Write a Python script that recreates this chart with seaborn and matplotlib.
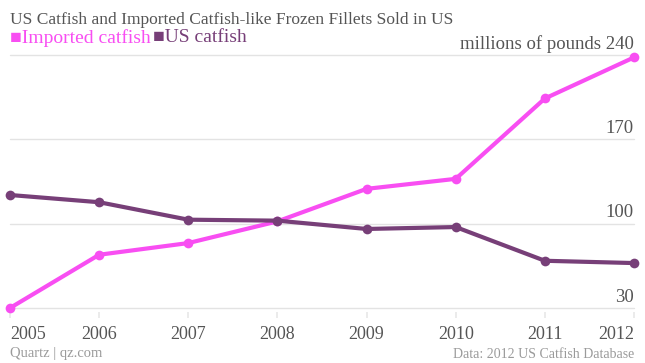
"""
US catfish vs imported catfish-like frozen fillets sold in the US (Quartz style line chart).
"""
import numpy as np
import pandas as pd
import seaborn as sns
import matplotlib.pyplot as plt
from matplotlib.transforms import blended_transform_factory

sns.set_theme(style="white")
plt.rcParams["font.family"] = ["Liberation Serif", "DejaVu Sans"]

# Data (millions of pounds)
years = [2005, 2006, 2007, 2008, 2009, 2010, 2011, 2012]
imported = [30.0, 74.2, 83.9, 101.9, 128.9, 137.2, 203.9, 238.0]
us_catfish = [123.8, 117.8, 103.3, 102.5, 95.6, 97.2, 69.2, 67.3]
series_names = ["Imported catfish", "US catfish"]
colors = ["#f84ef2", "#773f78"]
y_ticks = [30, 100, 170, 240]

TEXT = "#555555"
GRID = "#e3e3e3"

df = pd.DataFrame({
    "year": years * 2,
    "value": imported + us_catfish,
    "series": [series_names[0]] * len(years) + [series_names[1]] * len(years),
})

W, H = 645, 363
fig = plt.figure(figsize=(W / 100, H / 100), dpi=100)
# axes placed in pixel coordinates: x 10..634, y 50..312
left, right, top, bottom = 10, 634, 50, 312
ax = fig.add_axes([left / W, 1 - bottom / H, (right - left) / W, (bottom - top) / H])

px_per_unit = (308 - 55) / (240 - 30)
ax.set_ylim(30 - (bottom - 308) / px_per_unit, 240 + (55 - top) / px_per_unit)
ax.set_xlim(years[0], years[-1])

for yt in y_ticks:
    ax.axhline(yt, color=GRID, lw=1, zorder=0)

sns.lineplot(data=df, x="year", y="value", hue="series", palette=colors,
             marker="o", markersize=7, markeredgewidth=0, linewidth=3,
             legend=False, ax=ax, zorder=3)
for line in ax.lines:
    line.set_clip_on(False)

for s in ax.spines.values():
    s.set_visible(False)
ax.set_yticks([])
ax.set_xticks(years)
ax.set_xticklabels([str(y) for y in years], fontsize=13, color=TEXT)
labels = ax.get_xticklabels()
labels[0].set_ha("left")
labels[-1].set_ha("right")
ax.tick_params(axis="x", length=4, color="#e8e8e8", pad=6, bottom=True)
ax.set_xlabel("")
ax.set_ylabel("")

# right-side value labels sitting on the gridlines
trans = blended_transform_factory(ax.transAxes, ax.transData)
for yt in y_ticks:
    label = f"millions of pounds {yt}" if yt == y_ticks[-1] else str(yt)
    ax.text(1.0, yt + 2, label, transform=trans, ha="right", va="bottom",
            fontsize=13.5, color=TEXT)

# title and legend
fig.text(10 / W, 1 - 20 / H, "US Catfish and Imported Catfish-like Frozen Fillets Sold in US",
         fontsize=12.5, color=TEXT, va="center", ha="left")
t1 = fig.text(10 / W, 1 - 38 / H, "\u25a0" + series_names[0], fontsize=14,
              color=colors[0], va="center", ha="left")
fig.canvas.draw()
bb = t1.get_window_extent()
fig.text((bb.x1 + 2) / W, 1 - 38 / H, "\u25a0" + series_names[1], fontsize=14,
         color=colors[1], va="center", ha="left")

# footer
fig.text(10 / W, 1 - 354 / H, "Quartz | qz.com", fontsize=10.5, color="#9a9a9a",
         va="center", ha="left")
fig.text(634 / W, 1 - 354 / H, "Data: 2012 US Catfish Database", fontsize=10,
         color="#9a9a9a", va="center", ha="right")

fig.savefig("out.png", dpi=100)
